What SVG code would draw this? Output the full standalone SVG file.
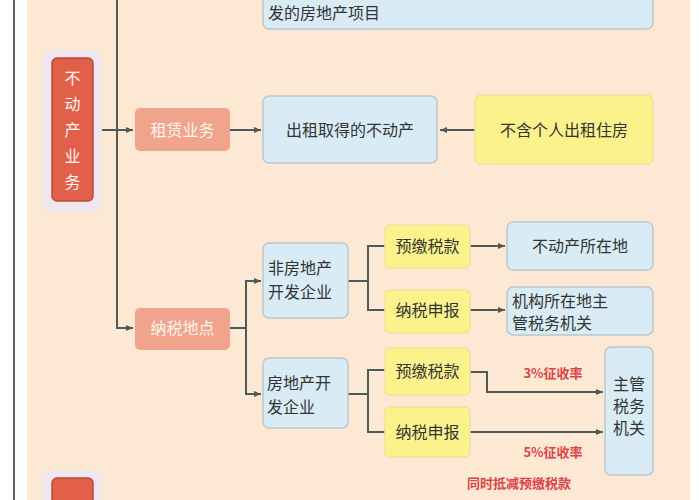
<svg xmlns="http://www.w3.org/2000/svg" width="700" height="500" viewBox="0 0 700 500">
<defs>
<marker id="ar" markerWidth="8" markerHeight="8" refX="7" refY="4" orient="auto" markerUnits="userSpaceOnUse"><path d="M0,1 L7,4 L0,7 z" fill="#4d5a5a"/></marker>
<style>
text{font-family:"Noto Sans CJK SC","Liberation Serif",serif;font-size:16px;fill:#333}
.blue{fill:#d9ecf6;stroke:#b9c8d0;stroke-width:1.5}
.yel{fill:#fbf28c;stroke:#efe2a0;stroke-width:1.5}
.sal{fill:#f0a48c}
.wt{fill:#fff4ee}
.red{fill:#d9444a;font-size:13px;font-weight:bold}
.ln{fill:none;stroke:#4d5a5a;stroke-width:2}
</style>
</defs>
<rect width="700" height="500" fill="#fff"/>
<rect x="27" y="0" width="663" height="500" fill="#fde9d3"/>
<line x1="14" y1="0" x2="14" y2="500" stroke="#5a6a6a" stroke-width="2"/>
<g id="connectors">
<path class="ln" d="M117,0 V328 H133" marker-end="url(#ar)"/>
<path class="ln" d="M102,130 H133" marker-end="url(#ar)"/>
<path class="ln" d="M230,130 H261" marker-end="url(#ar)"/>
<path class="ln" d="M475,130 H440" marker-end="url(#ar)"/>
<path class="ln" d="M230,328 H246"/>
<path class="ln" d="M261,281 H246 V394 H261" marker-end="url(#ar)"/>
<path class="ln" d="M246,281 H261" marker-end="url(#ar)"/>
<path class="ln" d="M348,281 H368 M385,246 H368 V310 H385"/>
<path class="ln" d="M348,394 H368 M385,370 H368 V432 H385"/>
<path class="ln" d="M470,246 H505" marker-end="url(#ar)"/>
<path class="ln" d="M470,310 H505" marker-end="url(#ar)"/>
<path class="ln" d="M470,372 H487 V392 H603" marker-end="url(#ar)"/>
<path class="ln" d="M470,432 H603" marker-end="url(#ar)"/>
</g>
<g id="n-top"><rect class="blue" x="263" y="-10" width="390" height="39" rx="6"/><text x="268" y="19">发的房地产项目</text></g>
<g id="n-bdc"><rect x="42" y="50" width="60" height="162" rx="8" fill="#efe6ee"/><rect x="52" y="58" width="41" height="143" rx="5" fill="#e2604a" stroke="#b84a3c" stroke-width="1.5"/>
<text class="wt" x="72.5" y="84" text-anchor="middle">不</text><text class="wt" x="72.5" y="110" text-anchor="middle">动</text><text class="wt" x="72.5" y="136" text-anchor="middle">产</text><text class="wt" x="72.5" y="162" text-anchor="middle">业</text><text class="wt" x="72.5" y="188" text-anchor="middle">务</text></g>
<g id="n-zl"><rect class="sal" x="135" y="108" width="95" height="43" rx="5"/><text class="wt" x="182.5" y="136" text-anchor="middle">租赁业务</text></g>
<g id="n-cz"><rect class="blue" x="263" y="96" width="174" height="67" rx="6"/><text x="350" y="136" text-anchor="middle">出租取得的不动产</text></g>
<g id="n-bh"><rect class="yel" x="475" y="95" width="178" height="69" rx="6"/><text x="564" y="136" text-anchor="middle">不含个人出租住房</text></g>
<g id="n-ns"><rect class="sal" x="135" y="308" width="95" height="42" rx="5"/><text class="wt" x="182.5" y="334" text-anchor="middle">纳税地点</text></g>
<g id="n-ffdc"><rect class="blue" x="263" y="243" width="85" height="75" rx="6"/><text x="268" y="274">非房地产</text><text x="268" y="298">开发企业</text></g>
<g id="n-fdc"><rect class="blue" x="263" y="358" width="85" height="70" rx="6"/><text x="267" y="389">房地产开</text><text x="267" y="413">发企业</text></g>
<g id="n-yj1"><rect class="yel" x="385" y="225" width="85" height="43" rx="5"/><text x="427.5" y="252" text-anchor="middle">预缴税款</text></g>
<g id="n-sb1"><rect class="yel" x="385" y="290" width="85" height="43" rx="5"/><text x="427.5" y="316" text-anchor="middle">纳税申报</text></g>
<g id="n-szd"><rect class="blue" x="507" y="222" width="146" height="48" rx="6"/><text x="580" y="252" text-anchor="middle">不动产所在地</text></g>
<g id="n-jg"><rect class="blue" x="507" y="287" width="146" height="48" rx="6"/><text x="512" y="307">机构所在地主</text><text x="512" y="329">管税务机关</text></g>
<g id="n-yj2"><rect class="yel" x="385" y="348" width="85" height="47" rx="5"/><text x="427.5" y="377" text-anchor="middle">预缴税款</text></g>
<g id="n-sb2"><rect class="yel" x="385" y="407" width="85" height="50" rx="5"/><text x="427.5" y="438" text-anchor="middle">纳税申报</text></g>
<g id="n-zg"><rect class="blue" x="605" y="347" width="48" height="128" rx="6"/><text x="629" y="390" text-anchor="middle">主管</text><text x="629" y="412" text-anchor="middle">税务</text><text x="629" y="434" text-anchor="middle">机关</text></g>
<text class="red" x="553" y="378" text-anchor="middle">3%征收率</text>
<text class="red" x="553" y="457" text-anchor="middle">5%征收率</text>
<text class="red" x="519" y="488" text-anchor="middle">同时抵减预缴税款</text>
<g id="n-bottom"><rect x="42" y="470" width="60" height="40" rx="8" fill="#efe6ee"/><rect x="52" y="478" width="41" height="30" rx="5" fill="#e2604a" stroke="#b84a3c" stroke-width="1.5"/></g>
</svg>
